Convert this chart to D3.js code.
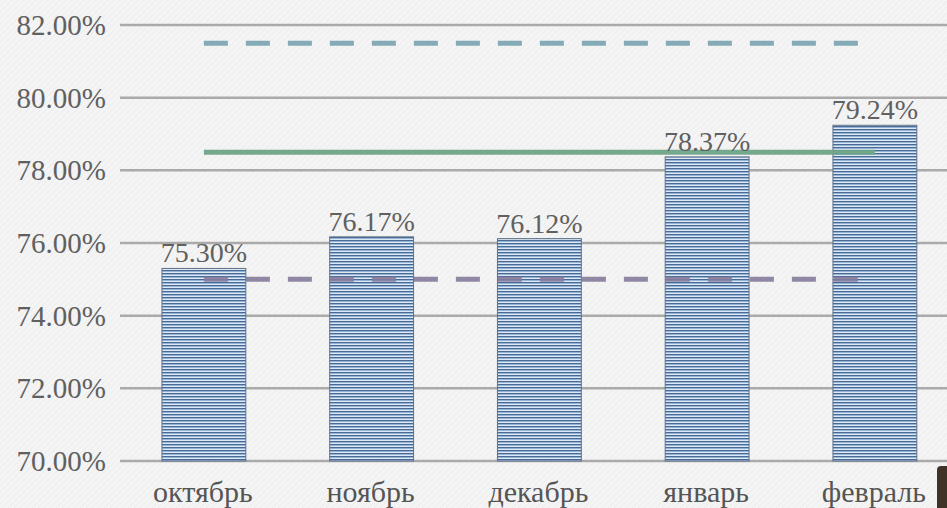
<!DOCTYPE html>
<html><head><meta charset="utf-8">
<script src="https://cdn.jsdelivr.net/npm/d3@7"></script>
<style>
html,body{margin:0;padding:0;background:#f3f3f3;}
svg{display:block;}
</style></head>
<body>
<svg id="chart" width="947" height="508"></svg>
<script>
const categories = ["октябрь","ноябрь","декабрь","январь","февраль"];
const values = [75.30, 76.17, 76.12, 78.37, 79.24];
const valueLabels = ["75.30%","76.17%","76.12%","78.37%","79.24%"];
const lineTop = [81.5, 81.5, 81.5, 81.5, 81.5];
const lineMid = [78.5, 78.5, 78.5, 78.5, 78.5];
const lineLow = [75.0, 75.0, 75.0, 75.0, 75.0];
const yTicks = [70, 72, 74, 76, 78, 80, 82];

const svg = d3.select("#chart");
const W = 947, H = 508;
const left = 120, bandW = 167.75;
const x = d3.scaleBand().domain(categories).range([left, left + bandW*categories.length]).paddingInner(0.5).paddingOuter(0.25);
const y = d3.scaleLinear().domain([70, 82]).range([461, 25]);

// background
const defs = svg.append("defs");
const bg = defs.append("pattern").attr("id","bgtex").attr("width",6).attr("height",6).attr("patternUnits","userSpaceOnUse");
bg.append("rect").attr("width",6).attr("height",6).attr("fill","#f4f4f4");
bg.append("path").attr("d","M0,6 L6,0").attr("stroke","#ececec").attr("stroke-width",1);
svg.append("rect").attr("width",W).attr("height",H).attr("fill","url(#bgtex)");

const pat = defs.append("pattern").attr("id","stripes").attr("width",4).attr("height",3).attr("patternUnits","userSpaceOnUse");
pat.append("rect").attr("y",0).attr("width",4).attr("height",1).attr("fill","#4a6a93");
pat.append("rect").attr("y",1).attr("width",4).attr("height",1).attr("fill","#93b4d9");
pat.append("rect").attr("y",2).attr("width",4).attr("height",1).attr("fill","#dde8f3");

// gridlines
svg.append("g").selectAll("line").data(yTicks).join("line")
  .attr("x1", left).attr("x2", W)
  .attr("y1", d => y(d)).attr("y2", d => y(d))
  .attr("stroke", "#aaaaaa").attr("stroke-width", 2.5);

// y axis labels
svg.append("g").selectAll("text").data(yTicks).join("text")
  .attr("x", 106).attr("y", d => y(d) + 10)
  .attr("text-anchor","end")
  .attr("font-family","'Liberation Serif', serif").attr("font-size", 29)
  .attr("fill","#606060")
  .text(d => d.toFixed(2) + "%");

// bars
svg.append("g").selectAll("rect").data(values).join("rect")
  .attr("x", (d,i) => x(categories[i]))
  .attr("width", x.bandwidth())
  .attr("y", d => y(d))
  .attr("height", d => y(70) - y(d))
  .attr("fill","url(#stripes)")
  .attr("stroke","#5f7088").attr("stroke-width",1);

// lines
const cx = c => x(c) + x.bandwidth()/2;
const lineGen = d3.line().x((d,i) => cx(categories[i])).y(d => y(d));
svg.append("path").datum(lineTop).attr("d", lineGen).attr("fill","none")
  .attr("stroke","#7ea6b4").attr("stroke-width",5).attr("stroke-dasharray","24 18").attr("opacity",0.95);
svg.append("path").datum(lineMid).attr("d", lineGen).attr("fill","none")
  .attr("stroke","#6da487").attr("stroke-width",5).attr("opacity",0.95);
svg.append("path").datum(lineLow).attr("d", lineGen).attr("fill","none")
  .attr("stroke","#857b9c").attr("stroke-width",5).attr("stroke-dasharray","24 18").attr("opacity",0.9);

// value labels
svg.append("g").selectAll("text").data(values).join("text")
  .attr("x", (d,i) => cx(categories[i]))
  .attr("y", d => y(d) - 6)
  .attr("text-anchor","middle")
  .attr("font-family","'Liberation Serif', serif").attr("font-size", 28)
  .attr("fill","#606060")
  .text((d,i) => valueLabels[i]);

// category labels
svg.append("g").selectAll("text").data(categories).join("text")
  .attr("x", d => cx(d) - 1)
  .attr("y", 502)
  .attr("text-anchor","middle")
  .attr("font-family","'Liberation Serif', serif").attr("font-size", 30)
  .attr("fill","#555555")
  .text(d => d);

// decorative dark object bottom right
svg.append("rect").attr("x",937).attr("y",466).attr("width",14).attr("height",50).attr("rx",4)
  .attr("fill","#3e3326");
</script>
</body></html>
